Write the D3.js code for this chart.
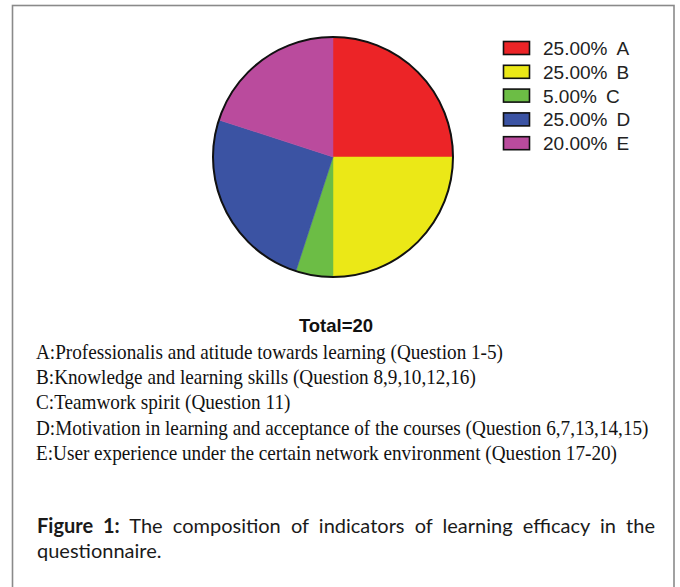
<!DOCTYPE html>
<html>
<head>
<meta charset="utf-8">
<script src="https://cdn.jsdelivr.net/npm/d3@7"></script>
<style>
  html, body { margin: 0; padding: 0; background: #fff; }
</style>
</head>
<body>
<div id="chart"></div>
<script>
const categories = ['A', 'B', 'C', 'D', 'E'];
const counts = [5, 5, 1, 5, 4];
const colors = ['#ec2427', '#ebe817', '#6cbd45', '#3b53a3', '#ba4b9d'];
const descriptions = [
  'A:Professionalis and atitude towards learning (Question 1-5)',
  'B:Knowledge and learning skills (Question 8,9,10,12,16)',
  'C:Teamwork spirit (Question 11)',
  'D:Motivation in learning and acceptance of the courses (Question 6,7,13,14,15)',
  'E:User experience under the certain network environment (Question 17-20)'
];
const captionBold = 'Figure 1:';
const captionLine1 = ' The composition of indicators of learning efficacy in the';
const captionLine2 = 'questionnaire.';

const width = 680, height = 587;
const total = d3.sum(counts);

const svg = d3.select('#chart').append('svg')
  .attr('width', width)
  .attr('height', height);

// frame (bottom edge runs off the page)
svg.append('rect')
  .attr('x', 12.5).attr('y', 5.5)
  .attr('width', 661.5).attr('height', 620)
  .attr('fill', 'none')
  .attr('stroke', '#8a8a8a')
  .attr('stroke-width', 1.6);

// pie
const radius = 120;
const pieG = svg.append('g').attr('transform', 'translate(333,157)');
const pie = d3.pie().sort(null).value(d => d.count);
const arc = d3.arc().innerRadius(0).outerRadius(radius);
const data = categories.map((c, i) => ({ cat: c, count: counts[i], color: colors[i] }));

pieG.selectAll('path')
  .data(pie(data))
  .enter()
  .append('path')
  .attr('d', arc)
  .attr('fill', d => d.data.color)
  .attr('stroke', d => d.data.color)
  .attr('stroke-width', 0.5);

pieG.append('circle')
  .attr('r', radius)
  .attr('fill', 'none')
  .attr('stroke', '#111')
  .attr('stroke-width', 2);

// legend
const legendY = d3.scaleBand().domain(categories).range([41, 160]).paddingInner(0);
const legend = svg.append('g');
const rows = legend.selectAll('g')
  .data(data)
  .enter()
  .append('g')
  .attr('transform', d => `translate(0,${legendY(d.cat)})`);

rows.append('rect')
  .attr('x', 503.5).attr('y', 0.5)
  .attr('width', 26).attr('height', 13)
  .attr('fill', d => d.color)
  .attr('stroke', '#111')
  .attr('stroke-width', 1.6);

const legendText = rows.append('text')
  .attr('x', 543)
  .attr('y', 14)
  .style('font-family', 'Liberation Sans, Arial, sans-serif')
  .style('font-size', '19px')
  .attr('fill', '#222');
legendText.append('tspan').text(d => (d.count / total * 100).toFixed(2) + '%');
legendText.append('tspan').attr('dx', 9).text(d => d.cat);

// total
svg.append('text')
  .attr('x', 336).attr('y', 332)
  .attr('text-anchor', 'middle')
  .style('font-family', 'Liberation Sans, Arial, sans-serif')
  .style('font-weight', 'bold')
  .style('font-size', '18.5px')
  .attr('fill', '#111')
  .text('Total=' + total);

// descriptions (condensed serif)
const descY = d3.scalePoint().domain(categories).range([359, 460]);
const descG = svg.append('g');
const descText = descG.selectAll('text')
  .data(descriptions)
  .enter()
  .append('text')
  .attr('y', (d, i) => descY(categories[i]))
  .style('font-family', 'Liberation Serif, Times New Roman, serif')
  .style('font-size', '21px')
  .attr('fill', '#111')
  .text(d => d);

// squeeze horizontally so the longest line spans the same width as the original
const longest = d3.max(descText.nodes(), n => n.getComputedTextLength());
const sx = 613 / longest;
descText.attr('transform', `translate(36,0) scale(${sx},1)`);

// caption, first line justified by widening the word gaps
const capFont = 'Lato, Open Sans, sans-serif';
const cap1 = svg.append('text')
  .attr('x', 37).attr('y', 533)
  .style('font-family', capFont)
  .style('font-size', '20px')
  .attr('fill', '#1a1a1a')
  .attr('xml:space', 'preserve');
cap1.append('tspan').style('font-weight', 'bold').text(captionBold);
cap1.append('tspan').text(captionLine1);
const natural = cap1.node().getComputedTextLength();
const gaps = (captionBold + captionLine1).split(' ').length - 1;
cap1.style('word-spacing', ((618 - natural) / gaps) + 'px');

svg.append('text')
  .attr('x', 37).attr('y', 558)
  .style('font-family', capFont)
  .style('font-size', '20px')
  .attr('fill', '#1a1a1a')
  .text(captionLine2);
</script>
</body>
</html>
